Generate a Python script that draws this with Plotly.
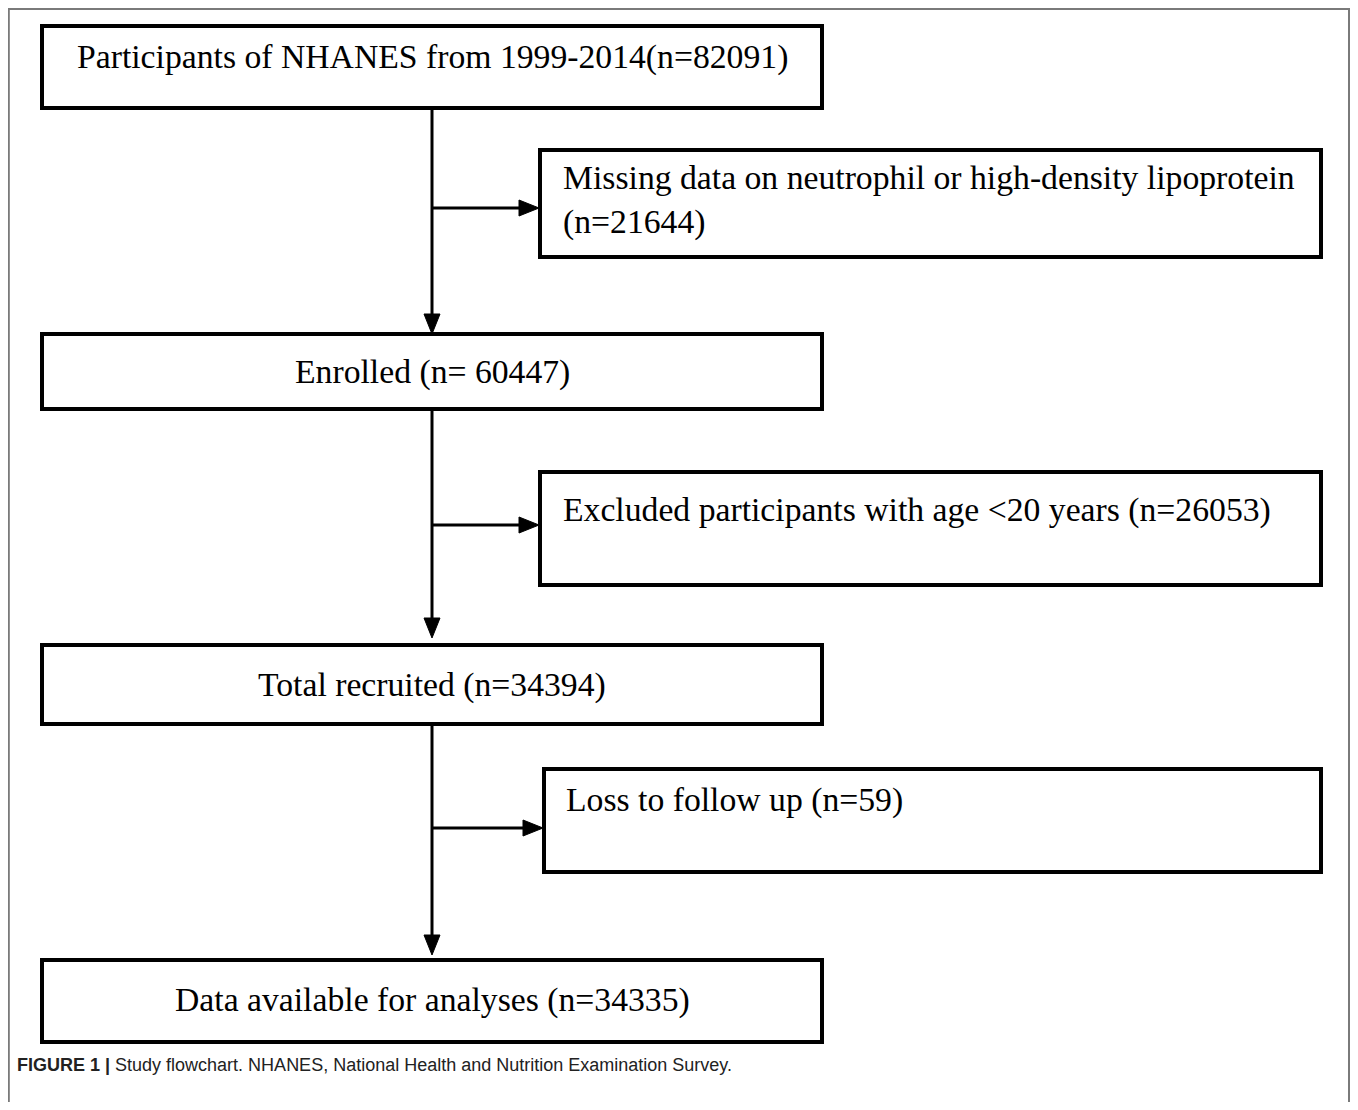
import plotly.graph_objects as go

# ---- content ----
main_labels = [
    "Participants of NHANES from 1999-2014(n=82091)",
    "Enrolled (n= 60447)",
    "Total recruited (n=34394)",
    "Data available for analyses (n=34335)",
]
side_labels = [
    "Missing data on neutrophil or high-density lipoprotein<br>(n=21644)",
    "Excluded participants with age &lt;20 years (n=26053)",
    "Loss to follow up (n=59)",
]
main_counts = [82091, 60447, 34394, 34335]
excluded_counts = [21644, 26053, 59]
caption_bold = "FIGURE 1 |"
caption_text = " Study flowchart. NHANES, National Health and Nutrition Examination Survey."

# ---- layout geometry (page pixels, y downwards) ----
W, H = 1358, 1110
OFF = 8  # default page body margin
main_boxes = [(42, 26, 822, 108), (42, 334, 822, 409), (42, 645, 822, 724), (42, 960, 822, 1042)]
main_text_y = [57, 372, 685, 1000]
side_boxes = [(540, 150, 1321, 257), (540, 472, 1321, 585), (544, 769, 1321, 872)]
side_text_y = [200, 510, 800]
side_text_x = [561, 561, 564]
arrow_y = [208, 525, 828]
down_tips = [334, 638, 955]
stem_x = 432
x_end, y_end = W - OFF, H - OFF

shapes = []
annotations = []

# outer frame (open at bottom)
shapes.append(dict(type="path", xref="x", yref="y",
                   path=f"M 8.8,{y_end+5} L 8.8,9 L {x_end-1},9 L {x_end-1},{y_end+5}",
                   line=dict(color="#7a7a7a", width=2)))

for (x0, y0, x1, y1) in main_boxes + side_boxes:
    shapes.append(dict(type="rect", xref="x", yref="y", x0=x0, y0=y0, x1=x1, y1=y1,
                       line=dict(color="black", width=4), fillcolor="rgba(0,0,0,0)"))

serif = dict(family="Liberation Serif, Times New Roman, serif", size=33.7, color="black")

for (x0, y0, x1, y1), lab, ty in zip(main_boxes, main_labels, main_text_y):
    annotations.append(dict(x=(x0 + x1) / 2, y=ty, xref="x", yref="y", text=lab,
                            showarrow=False, font=serif, xanchor="center", yanchor="middle"))

for lab, tx, ty in zip(side_labels, side_text_x, side_text_y):
    annotations.append(dict(x=tx, y=ty, xref="x", yref="y", text=lab, align="left",
                            showarrow=False, font=serif, xanchor="left", yanchor="middle"))

# vertical stems with down arrowheads
head_len, head_half = 20, 8
for i in range(3):
    y_start = main_boxes[i][3]
    tip = down_tips[i]
    shapes.append(dict(type="line", xref="x", yref="y", x0=stem_x, x1=stem_x,
                       y0=y_start, y1=tip - head_len + 2, line=dict(color="black", width=3)))
    shapes.append(dict(type="path", xref="x", yref="y",
                       path=f"M {stem_x-head_half},{tip-head_len} L {stem_x+head_half},{tip-head_len} L {stem_x},{tip} Z",
                       fillcolor="black", line=dict(color="black", width=1)))
    # horizontal branch
    ay = arrow_y[i]
    tipx = side_boxes[i][0] - 1
    shapes.append(dict(type="line", xref="x", yref="y", x0=stem_x, x1=tipx - head_len + 2,
                       y0=ay, y1=ay, line=dict(color="black", width=3)))
    shapes.append(dict(type="path", xref="x", yref="y",
                       path=f"M {tipx-head_len},{ay-head_half} L {tipx-head_len},{ay+head_half} L {tipx},{ay} Z",
                       fillcolor="black", line=dict(color="black", width=1)))

annotations.append(dict(x=15, y=1065, xref="x", yref="y",
                        text=f"<b>{caption_bold}</b>{caption_text}",
                        showarrow=False, xanchor="left", yanchor="middle",
                        font=dict(family="Liberation Sans, Arial, sans-serif", size=18, color="#222")))

fig = go.Figure()
fig.add_trace(go.Scatter(x=[OFF, x_end], y=[OFF, y_end], mode="markers", marker=dict(opacity=0),
                         hoverinfo="skip", showlegend=False))
fig.update_layout(
    width=x_end - OFF, height=y_end - OFF, margin=dict(l=0, r=0, t=0, b=0),
    paper_bgcolor="white", plot_bgcolor="white",
    xaxis=dict(range=[OFF, x_end], visible=False, fixedrange=True),
    yaxis=dict(range=[y_end, OFF], visible=False, fixedrange=True),
    shapes=shapes, annotations=annotations, showlegend=False,
)
fig.write_html("out.html")
